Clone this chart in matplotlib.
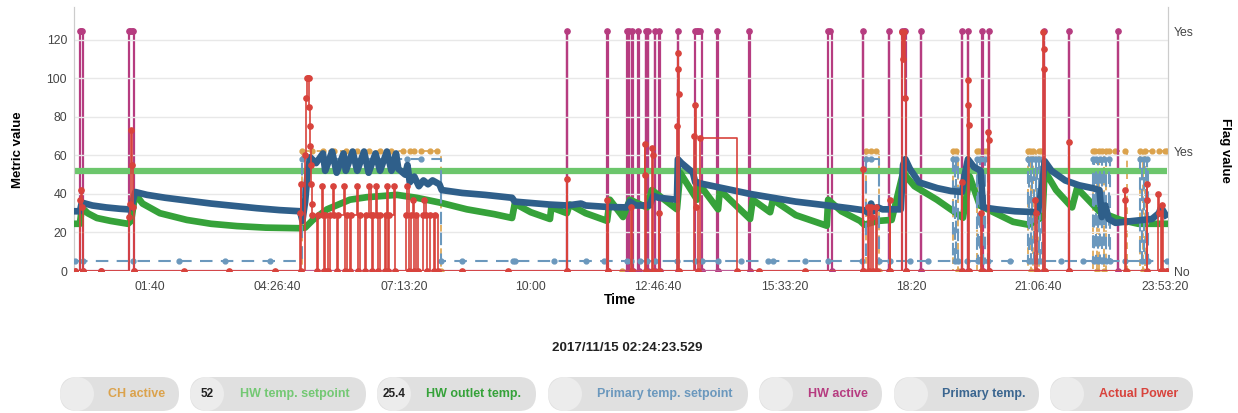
import numpy as np
import matplotlib.pyplot as plt
from matplotlib.patches import FancyBboxPatch, Circle
from matplotlib.ticker import FixedLocator, FuncFormatter

plt.rcParams['font.family'] = ['Liberation Sans', 'DejaVu Sans']

# ---- data: time in hours of 2017/11/15 ----
hw_setpoint_t = [0.02, 23.93]
hw_setpoint_v = [52, 52]

hw_outlet_t = [0.02, 0.13, 0.17, 0.3, 0.5, 0.8, 1.18, 1.25, 1.34, 1.5, 1.88, 2.47, 3.0, 3.57, 4.2, 4.95,
               5.06, 5.23, 5.54, 6.04, 6.41, 7.07, 7.5, 8.01, 8.6, 9.2, 9.59, 9.65, 10.0, 10.42, 10.45,
               10.79, 10.85, 11.2, 11.67, 11.73, 12.02, 12.17, 12.54, 12.65, 13.2, 13.27, 13.64, 13.66,
               14.1, 14.14, 14.8, 14.86, 15.24, 15.3, 15.8, 16.48, 16.51, 16.8, 17.21, 17.3, 17.6, 17.9,
               18.15, 18.4, 18.89, 19.46, 19.61, 19.83, 20.56, 20.9, 21.2, 21.25, 21.5, 21.85, 21.96,
               22.46, 22.9, 23.3, 23.93]
hw_outlet_v = [24.5, 24.5, 33, 30, 27.5, 26, 24.5, 26, 40, 35, 30, 26.5, 24.5, 23.3, 22.5, 22.2,
               22.5, 26.5, 32, 37, 38.3, 39.5, 38, 35.5, 32, 29.5, 27.5, 35, 30.5, 27, 33,
               30, 34.5, 30, 26, 37, 28, 37, 33, 42, 32, 51, 37, 46,
               32, 42, 27, 37, 30.5, 37, 29, 23.5, 37, 31, 26, 24, 26, 26.5,
               51, 44, 37, 27.6, 49, 34, 25.5, 24, 28, 52, 42, 33, 43,
               30.6, 26.6, 24.5, 24.5]

primary_t = [0.02, 0.13, 0.17, 0.4, 0.7, 1.0, 1.18, 1.25, 1.34, 1.6, 2.0, 2.5, 3.0, 3.5, 4.0, 4.5, 4.95,
             5.0, 5.06, 5.12, 5.17, 5.3, 5.45, 5.5, 5.65, 5.75, 5.9, 5.95, 6.1, 6.2, 6.35, 6.45, 6.6,
             6.7, 6.85, 6.95, 7.05, 7.1, 7.25, 7.3, 7.35, 7.45, 7.55, 7.65, 7.75, 7.85, 8.0, 8.05,
             8.5, 9.0, 9.59, 9.65, 10.4, 10.8, 11.1, 11.2, 11.7, 12.1, 12.17, 12.3, 12.6, 12.68, 12.8,
             13.2, 13.22, 13.3, 13.55, 13.6, 13.8, 14.2, 14.8, 15.3, 15.8, 16.5, 17.0, 17.3, 17.4,
             17.45, 17.5, 17.6, 17.7, 18.1, 18.15, 18.2, 18.3, 18.5, 18.9, 19.2, 19.44, 19.5, 19.57,
             19.7, 19.85, 19.9, 20.2, 20.6, 21.1, 21.2, 21.25, 21.4, 21.7, 22.0, 22.3, 22.45, 22.5,
             22.58, 22.65, 22.8, 23.2, 23.6, 23.75, 23.8, 23.9]
primary_v = [31, 31, 35.5, 34, 33, 32.3, 32, 33, 41, 39.5, 38, 36.5, 35, 33.8, 32.6, 31.6, 31,
             26, 36, 52, 59, 56, 61, 52, 62, 51, 61, 52, 62, 52, 62, 51, 61,
             52, 62, 52, 61, 53, 50, 55, 46, 49, 44, 47, 45, 47, 45, 42,
             40.5, 39.5, 38, 36, 34.5, 34, 35, 34, 33.2, 33, 36, 34, 34, 39, 38,
             37, 58, 56, 51, 46, 45, 43, 40, 38, 36, 34, 32.5, 31.5, 30,
             35, 31, 33, 32, 32, 55, 58, 53, 46, 43, 41.5, 41, 50, 58,
             54, 52, 33, 32, 31, 30.5, 45, 57, 52, 47, 44.5, 43, 42, 28,
             34, 27, 25, 26, 27, 30, 33, 29]

primary_sp_t = [0.02, 0.2, 1.3, 2.3, 3.3, 4.3, 4.99, 5.15, 7.3, 7.6, 8.03, 8.5, 9.6, 9.65, 10.5, 11.2,
                11.6, 12.1, 12.2, 12.4, 12.55, 12.72, 13.2, 13.6, 13.75, 14.1, 14.6, 15.2, 15.3, 16.0,
                16.5, 17.25, 17.34, 17.45, 17.62, 17.86, 18.3, 18.7, 19.24, 19.28, 19.3, 19.36, 19.55,
                19.77, 19.8, 19.84, 19.9, 19.94, 20.01, 20.5, 20.88, 20.91, 20.94, 20.98, 21.01, 21.05,
                21.08, 21.12, 21.15, 21.2, 21.6, 22.1, 22.31, 22.34, 22.38, 22.42, 22.46, 22.5, 22.55,
                22.6, 22.65, 22.68, 23.0, 23.34, 23.38, 23.42, 23.46, 23.5, 23.52, 23.93]
primary_sp_v = [5, 5, 5, 5, 5, 5, 58, 58, 58, 58, 5, 5, 5, 5, 5, 5,
                5, 5, 5, 5, 5, 5, 5, 5, 5, 5, 5, 5, 5, 5,
                5, 5, 58, 58, 5, 5, 5, 5, 58, 5, 58, 5, 5,
                58, 5, 58, 5, 58, 5, 5, 58, 5, 58, 5, 58, 5,
                58, 5, 58, 5, 5, 5, 58, 5, 58, 5, 58, 5, 58,
                5, 58, 5, 5, 58, 5, 58, 5, 58, 5, 5]

power_t = [0.02, 0.13, 0.15, 0.17, 0.19, 0.6, 1.2, 1.22, 1.24, 1.27, 1.3, 1.32, 2.4, 3.4, 4.4,
           4.95, 4.96, 4.98, 5.06, 5.08, 5.1, 5.12, 5.14, 5.15, 5.16, 5.17, 5.18, 5.19, 5.2, 5.22,
           5.33, 5.35, 5.43, 5.45, 5.47, 5.5, 5.56, 5.6, 5.67, 5.7, 5.75, 5.78, 5.9, 5.93, 5.97,
           6.04, 6.07, 6.2, 6.22, 6.26, 6.37, 6.4, 6.45, 6.5, 6.52, 6.55, 6.62, 6.64, 6.66, 6.7,
           6.81, 6.83, 6.85, 6.87, 6.9, 7.0, 7.02, 7.27, 7.3, 7.33, 7.38, 7.42, 7.45, 7.48, 7.52,
           7.63, 7.66, 7.7, 7.72, 7.8, 7.88, 7.9, 7.97, 8.5, 9.5, 10.79, 10.8, 11.67, 11.68,
           12.2, 12.21, 12.5, 12.51, 12.52, 12.66, 12.67, 12.68, 12.8, 12.81, 13.21, 13.22, 13.23,
           13.24, 13.25, 13.58, 13.6, 13.62, 13.65, 13.7, 14.51, 15.0, 16.0, 17.27, 17.28, 17.38,
           17.4, 17.45, 17.48, 17.5, 17.55, 17.57, 17.86, 17.87, 18.13, 18.15, 18.17, 18.19, 18.21,
           19.44, 19.45, 19.57, 19.58, 19.59, 19.6, 19.86, 19.88, 20.02, 20.03, 20.04, 21.04, 21.06,
           21.08, 21.22, 21.23, 21.24, 21.25, 21.78, 21.79, 23.0, 23.01, 23.02, 23.48, 23.49, 23.5,
           23.73, 23.76, 23.8, 23.82, 23.85, 23.93]
power_v = [0, 37, 42, 33, 0, 0, 28, 35, 73, 55, 33, 0, 0, 0, 0,
           30, 45, 0, 60, 90, 100, 100, 100, 85, 75, 65, 55, 45, 35, 29,
           0, 29, 44, 29, 0, 29, 0, 29, 44, 29, 0, 29, 44, 0, 29,
           0, 29, 44, 0, 29, 0, 29, 44, 29, 0, 29, 44, 29, 0, 29,
           0, 29, 44, 0, 29, 44, 0, 29, 44, 0, 29, 37, 0, 29, 0,
           29, 37, 29, 0, 29, 0, 29, 0, 0, 0, 48, 0, 37, 0,
           33, 0, 66, 50, 0, 64, 60, 0, 30, 0, 75, 113, 105,
           92, 0, 70, 86, 33, 0, 69, 0, 0, 0, 53, 0, 33,
           0, 33, 28, 0, 33, 0, 37, 0, 124, 110, 124, 90, 0,
           46, 0, 99, 86, 76, 0, 30, 0, 72, 68, 0, 37, 30,
           0, 124, 115, 105, 0, 67, 0, 42, 37, 0, 45, 37, 0,
           40, 30, 0, 34, 0, 0]

# flags (right axis): No = 0, Yes = 1 / 2
ch_active_t = [0.02, 4.99, 5.2, 5.45, 5.7, 5.95, 6.2, 6.45, 6.7, 6.95, 7.2, 7.35, 7.45, 7.6, 7.8, 7.95,
               8.03, 12.0, 17.34, 17.45, 17.55, 17.62, 19.24, 19.3, 19.36, 19.77, 19.82, 19.86, 19.9,
               19.96, 20.03, 20.88, 20.92, 20.96, 21.0, 21.05, 21.12, 21.17, 21.21, 22.31, 22.36, 22.4,
               22.45, 22.5, 22.55, 22.6, 22.65, 22.8, 23.0, 23.05, 23.34, 23.4, 23.45, 23.6, 23.75,
               23.88, 23.93]
ch_active_v = [0, 1, 1, 1, 1, 1, 1, 1, 1, 1, 1, 1, 1, 1, 1, 1,
               0, 0, 1, 1, 1, 0, 1, 1, 0, 1, 1, 0, 1,
               1, 0, 1, 1, 0, 1, 0, 1, 1, 0, 1, 1, 0,
               1, 1, 0, 1, 1, 1, 1, 0, 1, 0, 1, 1, 1,
               1, 1]

hw_active_t = [0.02, 0.13, 0.15, 0.17, 0.2, 0.6, 1.2, 1.23, 1.26, 1.29, 1.32, 5.5, 10.79, 10.8, 11.67,
               11.68, 12.11, 12.12, 12.15, 12.16, 12.22, 12.23, 12.35, 12.36, 12.52, 12.53, 12.56,
               12.57, 12.72, 12.73, 12.81, 12.82, 13.22, 13.23, 13.59, 13.63, 13.67, 13.71, 13.75,
               14.08, 14.09, 14.78, 14.79, 16.51, 16.55, 16.59, 17.27, 17.28, 17.84, 17.85, 18.13,
               18.16, 18.19, 18.21, 18.54, 18.55, 19.44, 19.45, 19.57, 19.58, 19.88, 19.89, 20.03,
               20.04, 21.23, 21.24, 21.78, 21.79, 22.85, 22.86, 23.93]
hw_active_v = [0, 2, 2, 2, 0, 0, 2, 2, 2, 2, 0, 0, 2, 0, 2,
               0, 2, 0, 2, 0, 2, 0, 2, 0, 2, 0, 2,
               0, 2, 0, 2, 0, 2, 0, 2, 2, 2, 2, 0,
               2, 0, 2, 0, 2, 2, 0, 2, 0, 2, 0, 2,
               2, 2, 0, 2, 0, 2, 0, 2, 0, 2, 0, 2,
               0, 2, 0, 2, 0, 2, 0, 0]

legend_labels = ['CH active', 'HW temp. setpoint', 'HW outlet temp.', 'Primary temp. setpoint',
                 'HW active', 'Primary temp.', 'Actual Power']
legend_values = ['', '52', '25.4', '', '', '', '']

c_ch = '#dba24c'
c_sp = '#6cc66c'
c_out = '#36a23a'
c_psp = '#6b98bd'
c_hwa = '#b63c80'
c_prim = '#2f5f8a'
c_pow = '#d8433c'
legend_colors = [c_ch, '#74c874', c_out, c_psp, c_hwa, '#3b6690', c_pow]


def fmt_time(h, pos):
    s = int(round(h * 3600))
    hh, rem = divmod(s, 3600)
    mm, ss = divmod(rem, 60)
    out = f"{hh:02d}:{mm:02d}"
    if ss:
        out += f":{ss:02d}"
    return out


fig = plt.figure(figsize=(12.38, 4.13), dpi=100)
ax = fig.add_axes([74 / 1238, 142 / 413, 1094 / 1238, 264 / 413])
ax2 = ax.twinx()
ax.set_zorder(ax2.get_zorder() + 1)
ax.patch.set_visible(False)

# flags on the right axis (drawn behind the metrics)
ax2.plot(ch_active_t, ch_active_v, drawstyle='steps-post', color=c_ch, lw=1.2, ls=(0, (4, 3)),
         marker='o', ms=3.5, zorder=2)
ax2.plot(hw_active_t, hw_active_v, drawstyle='steps-post', color=c_hwa, lw=1.6,
         marker='o', ms=3.8, zorder=3)

# metrics on the left axis
ax.plot(hw_setpoint_t, hw_setpoint_v, color=c_sp, lw=4.5, solid_capstyle='butt', zorder=2)
ax.plot(hw_outlet_t, hw_outlet_v, color=c_out, lw=4.8, solid_joinstyle='round', zorder=3)
ax.plot(primary_sp_t, primary_sp_v, drawstyle='steps-post', color=c_psp, lw=1.5, ls=(0, (6, 4)),
        marker='o', ms=3.5, zorder=4)
ax.plot(primary_t, primary_v, color=c_prim, lw=4.8, solid_joinstyle='round', zorder=5)
ax.plot(power_t, power_v, drawstyle='steps-post', color=c_pow, lw=1.2,
        marker='o', ms=3.8, zorder=6)

ax.set_xlim(0, 23.95)
ax.set_ylim(0, 137)
ax2.set_ylim(0, 2.2)

ax.xaxis.set_major_locator(FixedLocator(np.arange(6000, 86401, 10000) / 3600))
ax.xaxis.set_major_formatter(FuncFormatter(fmt_time))
ax.set_yticks(range(0, 121, 20))
ax2.set_yticks([0, 1, 2])
ax2.set_yticklabels(['No', 'Yes', 'Yes'])

ax.tick_params(axis='both', length=0, labelsize=8.8, colors='#444444')
ax.tick_params(axis='x', pad=7)
ax.tick_params(axis='y', pad=5)
ax2.tick_params(axis='y', length=0, labelsize=8.8, colors='#444444', pad=4)

ax.grid(axis='y', color='#e8e8e8', lw=1)
ax.set_axisbelow(True)
for a in (ax, ax2):
    a.spines['top'].set_visible(False)
    a.spines['bottom'].set_visible(False)
    a.spines['left'].set_color('#cccccc')
    a.spines['right'].set_color('#cccccc')

fig.text(620 / 1238, 1 - 300 / 413, 'Time', ha='center', va='center', fontsize=10, fontweight='bold')
fig.text(18 / 1238, 1 - 150 / 413, 'Metric value', rotation=90, ha='center', va='center',
         fontsize=9.5, fontweight='bold')
fig.text(1225 / 1238, 1 - 150 / 413, 'Flag value', rotation=270, ha='center', va='center',
         fontsize=9.5, fontweight='bold')
fig.text(627 / 1238, 1 - 348 / 413, '2017/11/15 02:24:23.529', ha='center', va='center',
         fontsize=9.6, fontweight='bold', color='#222222')

# pill-shaped legend
lg = fig.add_axes([0, 0, 1, 1], zorder=-1)
lg.set_xlim(0, 1238)
lg.set_ylim(413, 0)
lg.axis('off')
pill_x = [60, 190, 377, 548, 759, 894, 1050]
pill_w = [119, 176, 159, 200, 123, 145, 143]
pill_top, pill_h = 377, 34
for x0, w, lab, val, col in zip(pill_x, pill_w, legend_labels, legend_values, legend_colors):
    lg.add_patch(FancyBboxPatch((x0, pill_top), w, pill_h,
                                boxstyle='round,pad=0,rounding_size=17',
                                fc='#e0e0e0', ec='none'))
    lg.add_patch(Circle((x0 + 17, pill_top + 17), 17, fc='#ececec', ec='none'))
    cy = pill_top + 17
    if val:
        lg.text(x0 + 17, cy, val, ha='center', va='center', fontsize=8.5,
                fontweight='bold', color='#222222')
    lg.text((x0 + 34 + x0 + w) / 2, cy, lab, ha='center', va='center', fontsize=9,
            fontweight='bold', color=col)

fig.savefig('out.png', dpi=100)
